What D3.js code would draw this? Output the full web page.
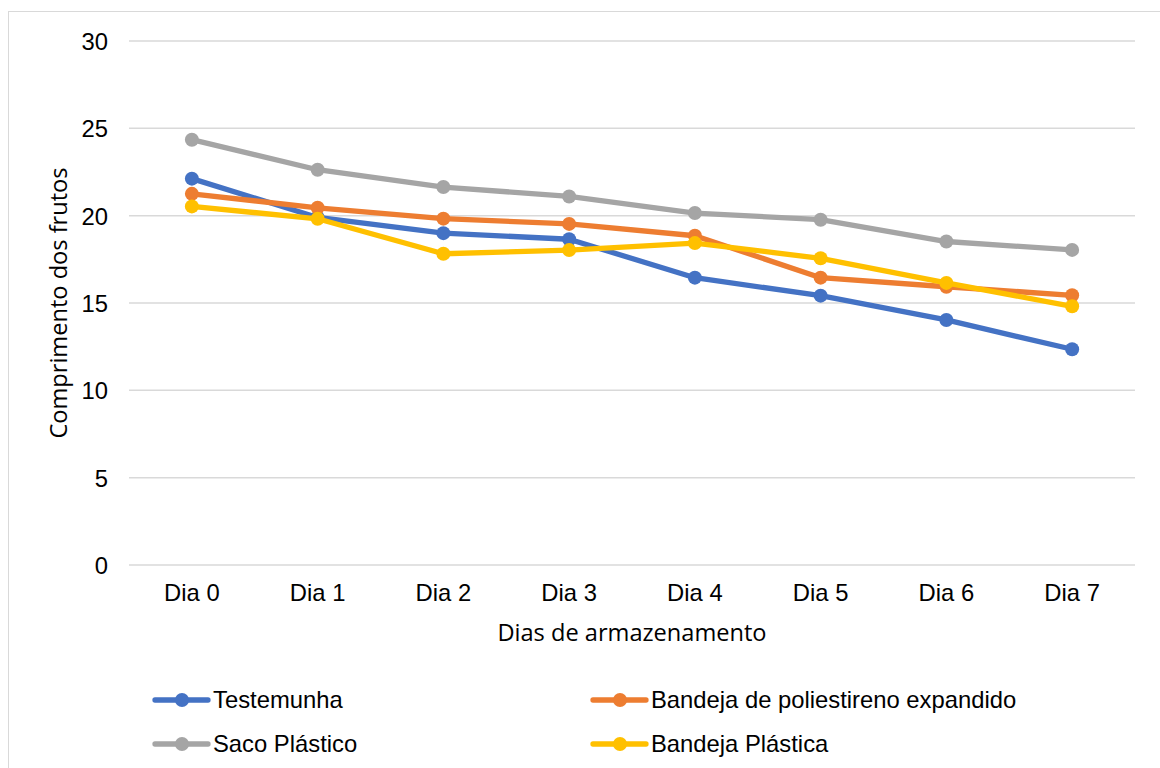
<!DOCTYPE html>
<html>
<head>
<meta charset="utf-8">
<script src="https://cdn.jsdelivr.net/npm/d3@7"></script>
<style>
  html, body { margin: 0; padding: 0; background: #fff; }
  svg { display: block; }
</style>
</head>
<body>
<svg id="chart" width="1160" height="768"></svg>
<script>
// Storage days on the x axis
const categories = ["Dia 0", "Dia 1", "Dia 2", "Dia 3", "Dia 4", "Dia 5", "Dia 6", "Dia 7"];

// Fruit length per treatment
const testemunha = [22.12, 19.9, 19.0, 18.65, 16.45, 15.42, 14.03, 12.35];
const bandejaPoliestireno = [21.25, 20.45, 19.83, 19.53, 18.85, 16.45, 15.93, 15.44];
const sacoPlastico = [24.35, 22.63, 21.64, 21.1, 20.15, 19.77, 18.52, 18.04];
const bandejaPlastica = [20.53, 19.82, 17.82, 18.03, 18.43, 17.56, 16.15, 14.81];

const yTicks = [0, 5, 10, 15, 20, 25, 30];

const seriesNames = ["Testemunha", "Bandeja de poliestireno expandido", "Saco Plástico", "Bandeja Plástica"];
const seriesColors = ["#4472c4", "#ed7d31", "#a5a5a5", "#ffc000"];

const series = [
  { name: seriesNames[0], color: seriesColors[0], values: testemunha },
  { name: seriesNames[1], color: seriesColors[1], values: bandejaPoliestireno },
  { name: seriesNames[2], color: seriesColors[2], values: sacoPlastico },
  { name: seriesNames[3], color: seriesColors[3], values: bandejaPlastica }
];

const svg = d3.select("#chart");

// Chart frame
svg.append("rect")
  .attr("x", 8.5).attr("y", 11.5)
  .attr("width", 1170).attr("height", 780)
  .attr("fill", "#fff")
  .attr("stroke", "#d9d9d9").attr("stroke-width", 1);

const plot = { left: 129, right: 1135, top: 41, bottom: 565 };

const x = d3.scaleBand().domain(categories).range([plot.left, plot.right]);
const y = d3.scaleLinear().domain([0, 30]).range([plot.bottom, plot.top]);

const labelFont = "'Liberation Sans', Arial, sans-serif";
const titleFont = "'Open Sans', 'Noto Sans', sans-serif";
const labelSize = 23.8;
const titleSize = 23.6;

// Horizontal gridlines
svg.append("g")
  .selectAll("line")
  .data(yTicks)
  .join("line")
  .attr("x1", plot.left).attr("x2", plot.right)
  .attr("y1", d => y(d)).attr("y2", d => y(d))
  .attr("stroke", "#d9d9d9").attr("stroke-width", 1.5);

// Y axis labels
const yAxis = d3.axisLeft(y).tickValues(yTicks).tickSize(0).tickPadding(0);
const gy = svg.append("g").attr("transform", `translate(${plot.left - 21},0)`).call(yAxis);
gy.select(".domain").remove();
gy.selectAll("text")
  .attr("font-family", labelFont).attr("font-size", labelSize).attr("fill", "#000")
  .attr("dy", "0.35em");

// X axis labels
const xAxis = d3.axisBottom(x).tickSize(0).tickPadding(0);
const gx = svg.append("g").attr("transform", `translate(0,${plot.bottom + 28})`).call(xAxis);
gx.select(".domain").remove();
gx.selectAll("text")
  .attr("font-family", labelFont).attr("font-size", labelSize).attr("fill", "#000")
  .attr("dy", "0.35em");

// Axis titles
svg.append("text")
  .attr("x", (plot.left + plot.right) / 2).attr("y", 633)
  .attr("text-anchor", "middle").attr("dy", "0.35em")
  .attr("font-family", titleFont).attr("font-size", titleSize).attr("fill", "#000")
  .text("Dias de armazenamento");

svg.append("text")
  .attr("transform", `translate(59,${(plot.top + plot.bottom) / 2}) rotate(-90)`)
  .attr("text-anchor", "middle").attr("dy", "0.35em")
  .attr("font-family", titleFont).attr("font-size", titleSize).attr("fill", "#000")
  .text("Comprimento dos frutos");

// Lines and markers
const line = d3.line()
  .x((d, i) => x(categories[i]) + x.bandwidth() / 2)
  .y(d => y(d));

const sg = svg.append("g").selectAll("g").data(series).join("g");
sg.append("path")
  .attr("d", d => line(d.values))
  .attr("fill", "none")
  .attr("stroke", d => d.color)
  .attr("stroke-width", 5.3)
  .attr("stroke-linejoin", "round")
  .attr("stroke-linecap", "round");
sg.selectAll("circle")
  .data(d => d.values.map((v, i) => ({ v, i, color: d.color })))
  .join("circle")
  .attr("cx", d => x(categories[d.i]) + x.bandwidth() / 2)
  .attr("cy", d => y(d.v))
  .attr("r", 7)
  .attr("fill", d => d.color);

// Legend
const legendPos = [
  { x: 153, y: 700 }, { x: 591, y: 700 },
  { x: 153, y: 744 }, { x: 591, y: 744 }
];
const lg = svg.append("g").selectAll("g").data(series).join("g")
  .attr("transform", (d, i) => `translate(${legendPos[i].x},${legendPos[i].y})`);
lg.append("line")
  .attr("x1", 2).attr("x2", 55).attr("y1", 0).attr("y2", 0)
  .attr("stroke", d => d.color).attr("stroke-width", 5.3)
  .attr("stroke-linecap", "round");
lg.append("circle")
  .attr("cx", 29).attr("cy", 0).attr("r", 7)
  .attr("fill", d => d.color);
lg.append("text")
  .attr("x", 60).attr("y", 0).attr("dy", "0.35em")
  .attr("font-family", labelFont).attr("font-size", labelSize).attr("fill", "#000")
  .text(d => d.name);
</script>
</body>
</html>
